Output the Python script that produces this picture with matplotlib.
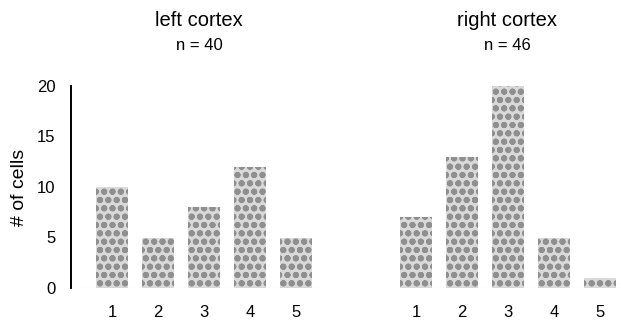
import numpy as np
import matplotlib.pyplot as plt

plt.rcParams['font.family'] = ['Liberation Sans', 'DejaVu Sans']
plt.rcParams['hatch.linewidth'] = 2.0

# data
categories = [1, 2, 3, 4, 5]
left_counts = [10, 5, 8, 12, 5]
right_counts = [7, 13, 20, 5, 1]
panels = [('left cortex', 'n = 40'), ('right cortex', 'n = 46')]

W, H = 621, 324
fig = plt.figure(figsize=(W / 100, H / 100), dpi=100)

def px_axes(x0, x1, y_top, y_bot):
    return fig.add_axes([x0 / W, 1 - y_bot / H, (x1 - x0) / W, (y_bot - y_top) / H])

ax_l = px_axes(70.6, 319, 86, 288)
ax_r = px_axes(393, 620.7, 86, 288)

for ax, counts, xlim in [(ax_l, left_counts, (0.1, 5.5)), (ax_r, right_counts, (0.5, 5.45))]:
    ax.bar(categories, counts, width=0.7, color='#d9d9d9', edgecolor='#8f8f8f',
           hatch='oo', linewidth=0)
    ax.axhline(0, color='#9a9a9a', lw=0.8, ls=':', xmin=0.05)
    ax.set_xlim(*xlim)
    ax.set_ylim(0, 20)
    ax.set_xticks(categories)
    ax.tick_params(axis='x', length=0, pad=12, labelsize=12)
    for s in ['top', 'right', 'bottom']:
        ax.spines[s].set_visible(False)

ax_l.spines['left'].set_linewidth(1.4)
ax_l.set_yticks([0, 5, 10, 15, 20])
ax_l.tick_params(axis='y', length=0, pad=11, labelsize=12)
ax_l.set_ylabel('# of cells', fontsize=14, labelpad=6)

ax_r.spines['left'].set_visible(False)
ax_r.set_yticks([])

# titles
for (title, n), xc in zip(panels, [199, 507]):
    fig.text(xc / W, 1 - 20 / H, title, ha='center', va='center', fontsize=14.5)
    fig.text(xc / W, 1 - 45 / H, n, ha='center', va='center', fontsize=12)

fig.savefig('out.png', dpi=100)
